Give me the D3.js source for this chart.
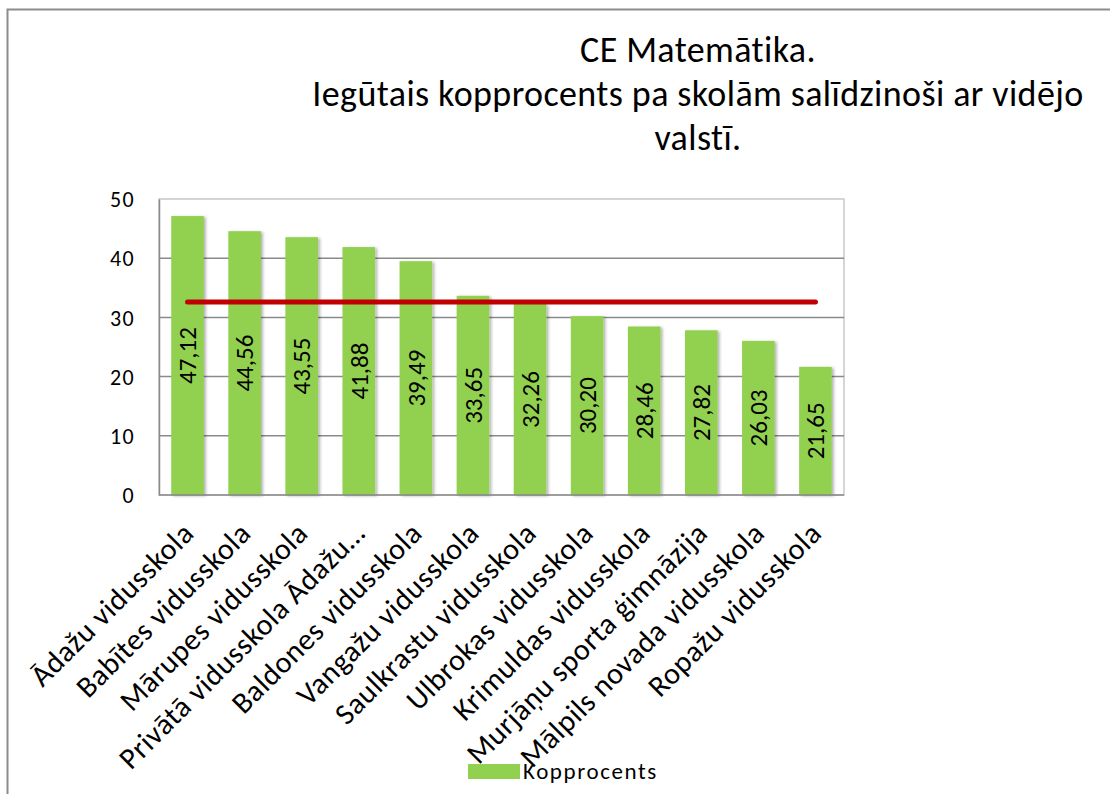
<!DOCTYPE html>
<html>
<head>
<meta charset="utf-8">
<script src="https://cdn.jsdelivr.net/npm/d3@7"></script>
<style>
    body { margin: 0; background: #fff; }
    svg text { font-family: Carlito, Calibri, "Open Sans", sans-serif; fill: #000; }
</style>
</head>
<body>
<div id="chart"></div>
<script>
// Chart data
const schools = [
    'Ādažu vidusskola',
    'Babītes vidusskola',
    'Mārupes vidusskola',
    'Privātā vidusskola Ādažu…',
    'Baldones vidusskola',
    'Vangažu vidusskola',
    'Saulkrastu vidusskola',
    'Ulbrokas vidusskola',
    'Krimuldas vidusskola',
    'Murjāņu sporta ģimnāzija',
    'Mālpils novada vidusskola',
    'Ropažu vidusskola'
];
const kopprocents = [47.12, 44.56, 43.55, 41.88, 39.49, 33.65, 32.26, 30.20, 28.46, 27.82, 26.03, 21.65];
const videjoValsti = 32.6;
const yTicks = [0, 10, 20, 30, 40, 50];
const titleLines = ['CE Matemātika.', 'Iegūtais kopprocents pa skolām salīdzinoši ar vidējo', 'valstī.'];
const legendLabel = 'Kopprocents';

const width = 1110;
const height = 794;
const plot = { left: 159, right: 844, top: 199, bottom: 495 };

const svg = d3.select('#chart')
    .append('svg')
    .attr('width', width)
    .attr('height', height);

// soft shadow for bars
const defs = svg.append('defs');
const shadow = defs.append('filter')
    .attr('id', 'barShadow')
    .attr('x', '-20%').attr('y', '-5%')
    .attr('width', '150%').attr('height', '115%');
shadow.append('feDropShadow')
    .attr('dx', 2).attr('dy', 1)
    .attr('stdDeviation', 1.5)
    .attr('flood-color', '#000')
    .attr('flood-opacity', 0.3);

// chart frame
svg.append('rect')
    .attr('x', 7.5).attr('y', 9.5)
    .attr('width', width + 10).attr('height', height + 10)
    .attr('fill', 'none')
    .attr('stroke', '#8c8c8c')
    .attr('stroke-width', 2);

const x = d3.scaleBand()
    .domain(schools)
    .range([plot.left, plot.right])
    .paddingInner(0.4286)
    .paddingOuter(0.2143);

const y = d3.scaleLinear()
    .domain([0, 50])
    .range([plot.bottom, plot.top]);

// plot area border
svg.append('rect')
    .attr('x', plot.left).attr('y', plot.top)
    .attr('width', plot.right - plot.left)
    .attr('height', plot.bottom - plot.top)
    .attr('fill', 'none')
    .attr('stroke', '#c8c8c8')
    .attr('stroke-width', 1.5);

// gridlines
svg.append('g')
    .selectAll('line')
    .data(yTicks.filter(d => d > 0 && d < 50))
    .join('line')
    .attr('x1', plot.left).attr('x2', plot.right)
    .attr('y1', d => y(d)).attr('y2', d => y(d))
    .attr('stroke', '#8a8a8a')
    .attr('stroke-width', 1.5);

// y axis
const yAxis = svg.append('g')
    .attr('transform', `translate(${plot.left},0)`)
    .call(d3.axisLeft(y).tickValues(yTicks).tickSize(0).tickPadding(24));
yAxis.select('.domain').attr('stroke', '#8a8a8a').attr('stroke-width', 1.5);
yAxis.selectAll('text')
    .style('font-size', '22px')
    .style('letter-spacing', '1.3px')
    .attr('dy', '0.35em');

// bars
svg.append('g')
    .selectAll('rect')
    .data(kopprocents)
    .join('rect')
    .attr('x', (d, i) => x(schools[i]))
    .attr('y', d => y(d))
    .attr('width', x.bandwidth())
    .attr('height', d => y(0) - y(d))
    .attr('fill', '#92d050')
    .attr('filter', 'url(#barShadow)');

// x axis line
svg.append('line')
    .attr('x1', plot.left).attr('x2', plot.right)
    .attr('y1', plot.bottom).attr('y2', plot.bottom)
    .attr('stroke', '#8a8a8a')
    .attr('stroke-width', 1.5);

// average line
const avgLine = d3.line()
    .x(d => x(d) + x.bandwidth() / 2)
    .y(() => y(videjoValsti));
svg.append('path')
    .datum(schools)
    .attr('d', avgLine)
    .attr('fill', 'none')
    .attr('stroke', '#c00000')
    .attr('stroke-width', 5)
    .attr('stroke-linecap', 'round');

// data labels
svg.append('g')
    .selectAll('text')
    .data(kopprocents)
    .join('text')
    .attr('transform', (d, i) => {
        const cx = x(schools[i]) + x.bandwidth() / 2;
        const cy = (y(d) + y(0)) / 2;
        return `translate(${cx},${cy}) rotate(-90)`;
    })
    .attr('text-anchor', 'middle')
    .attr('dy', '0.35em')
    .style('font-size', '25px')
    .text(d => d.toFixed(2).replace('.', ','));

// category labels
svg.append('g')
    .selectAll('text')
    .data(schools)
    .join('text')
    .attr('transform', d => `translate(${x(d) + x.bandwidth() / 2 + 8},${plot.bottom + 40}) rotate(-45)`)
    .attr('text-anchor', 'end')
    .style('font-size', '30px')
    .style('letter-spacing', '0.6px')
    .text(d => d);

// title
svg.append('g')
    .selectAll('text')
    .data(titleLines)
    .join('text')
    .attr('x', 698)
    .attr('y', (d, i) => 62 + i * 44)
    .attr('text-anchor', 'middle')
    .style('font-size', '36px')
    .style('letter-spacing', '0.4px')
    .text(d => d);

// legend
const legend = svg.append('g');
legend.append('rect')
    .attr('x', 468).attr('y', 764)
    .attr('width', 52).attr('height', 15)
    .attr('fill', '#92d050');
legend.append('text')
    .attr('x', 523).attr('y', 779)
    .style('font-size', '23px')
    .style('letter-spacing', '1.6px')
    .text(legendLabel);
</script>
</body>
</html>
